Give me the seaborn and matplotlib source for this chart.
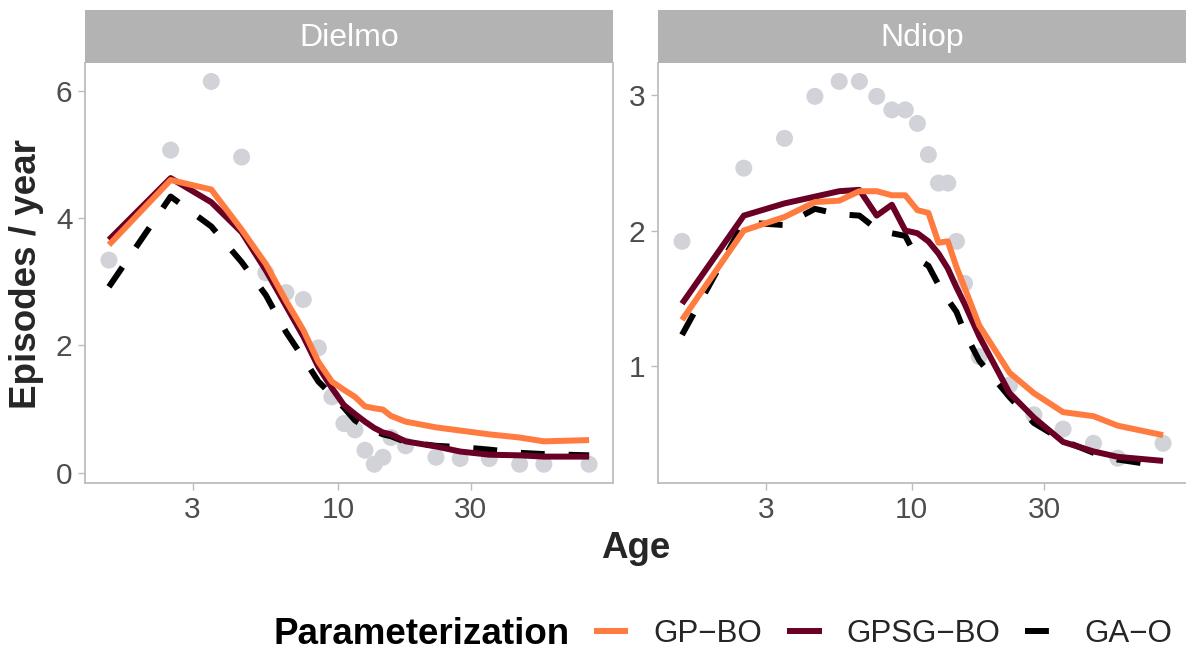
import numpy as np
import pandas as pd
import matplotlib
matplotlib.use("Agg")
import matplotlib.pyplot as plt
from matplotlib.lines import Line2D
from matplotlib.ticker import NullLocator
import seaborn as sns

# ---------------- data ----------------
ages = [1.5, 2.5, 3.5, 4.5, 5.5, 6.5, 7.5, 8.5, 9.5, 10.5, 11.5, 12.5, 13.5,
        14.5, 15.5, 17.5, 22.5, 27.5, 35, 45, 55, 80]

dielmo_obs = [3.34, 5.07, 6.15, 4.96, 3.14, 2.83, 2.72, 1.96, 1.19, 0.77, 0.67,
              0.35, 0.13, 0.24, 0.55, 0.42, 0.24, 0.22, 0.22, 0.13, 0.13, 0.13]
dielmo_gp_bo = [3.58, 4.60, 4.45, 3.82, 3.28, 2.70, 2.24, 1.74, 1.43, 1.30, 1.19,
                1.04, 1.01, 0.99, 0.89, 0.80, 0.71, 0.66, 0.60, 0.55, 0.49, 0.51]
dielmo_gpsg_bo = [3.66, 4.63, 4.25, 3.78, 3.18, 2.62, 2.14, 1.66, 1.33, 1.06, 0.92,
                  0.80, 0.70, 0.63, 0.60, 0.49, 0.41, 0.33, 0.28, 0.27, 0.25, 0.25]
dielmo_ga_o = [2.92, 4.34, 3.87, 3.31, 2.79, 2.21, 1.80, 1.43, 1.22, 1.02, 0.82,
               0.72, 0.66, 0.60, 0.57, 0.48, 0.42, 0.40, 0.36, 0.31, 0.29, 0.27]

ndiop_obs = [1.92, 2.46, 2.68, 2.99, 3.10, 3.10, 2.99, 2.89, 2.89, 2.79, 2.56,
             2.35, 2.35, 1.92, 1.61, 1.07, 0.86, 0.64, 0.535, 0.43, 0.32, 0.43]
ndiop_gp_bo = [1.34, 2.00, 2.10, 2.21, 2.22, 2.29, 2.29, 2.26, 2.26, 2.15, 2.13,
               1.91, 1.92, 1.73, 1.58, 1.30, 0.95, 0.80, 0.66, 0.63, 0.56, 0.49]
ndiop_gpsg_bo = [1.46, 2.11, 2.20, 2.25, 2.29, 2.30, 2.11, 2.19, 2.00, 1.98, 1.92,
                 1.83, 1.72, 1.58, 1.46, 1.22, 0.80, 0.62, 0.44, 0.37, 0.33, 0.30]
ndiop_ga_o = [1.23, 2.06, 2.04, 2.16, 2.12, 2.11, 2.01, 1.98, 1.96, 1.79, 1.74,
              1.60, 1.49, 1.40, 1.25, 1.04, 0.77, 0.58, 0.45, 0.36, 0.31, 0.26]

sites = ["Dielmo", "Ndiop"]
params = ["GP\u2212BO", "GPSG\u2212BO", "GA\u2212O"]
xticks = [3, 10, 30]
yticks = {"Dielmo": [0, 2, 4, 6], "Ndiop": [1, 2, 3]}

obs = {"Dielmo": dielmo_obs, "Ndiop": ndiop_obs}
fits = {"Dielmo": [dielmo_gp_bo, dielmo_gpsg_bo, dielmo_ga_o],
        "Ndiop": [ndiop_gp_bo, ndiop_gpsg_bo, ndiop_ga_o]}

# ---------------- style ----------------
sns.set_theme(style="white")
plt.rcParams["font.family"] = ["Liberation Sans", "DejaVu Sans"]

colors = {params[0]: "#FF7B3F", params[1]: "#6A0026", params[2]: "#000000"}
dashes = {params[0]: "", params[1]: "", params[2]: (4, 4)}
point_color = "#D2D3D9"
strip_color = "#B3B3B3"
axis_gray = "#BDBDBD"
tick_text = "#4D4D4D"
title_color = "#262626"
LW = 4.3

W, H = 1186, 652
fig = plt.figure(figsize=(W / 100, H / 100), dpi=100)

def fx(px):
    return px / W

def fy(py):
    return 1 - py / H

panel_x = {"Dielmo": (85, 613), "Ndiop": (658, 1187)}
panel_top, panel_bot, strip_top = 63, 483, 10
ylims = {"Dielmo": (-0.165, 6.44), "Ndiop": (0.137, 3.236)}
xlim = (1.23, 97.5)

for site in sites:
    x0, x1 = panel_x[site]
    ax = fig.add_axes([fx(x0), fy(panel_bot), fx(x1 - x0), (panel_bot - panel_top) / H])
    df_obs = pd.DataFrame({"age": ages, "value": obs[site]})
    sns.scatterplot(data=df_obs, x="age", y="value", color=point_color, s=150,
                    edgecolor="none", ax=ax, zorder=1, legend=False)
    rows = []
    for p, vals in zip(params, fits[site]):
        rows.append(pd.DataFrame({"age": ages, "value": vals, "param": p}))
    df_fit = pd.concat(rows, ignore_index=True)
    sns.lineplot(data=df_fit, x="age", y="value", hue="param", style="param",
                 hue_order=[params[2], params[1], params[0]],
                 style_order=[params[2], params[1], params[0]],
                 palette=colors, dashes=dashes, linewidth=LW, estimator=None,
                 sort=False, legend=False, ax=ax, zorder=2)
    for line in ax.get_lines():
        line.set_solid_capstyle("butt")
        line.set_dash_capstyle("butt")
    ax.set_xscale("log")
    ax.set_xlim(*xlim)
    ax.set_ylim(*ylims[site])
    ax.set_xticks(xticks)
    ax.set_xticklabels([str(t) for t in xticks])
    ax.xaxis.set_minor_locator(NullLocator())
    ax.set_yticks(yticks[site])
    ax.set_yticklabels([str(t) for t in yticks[site]])
    ax.set_xlabel("")
    ax.set_ylabel("")
    ax.tick_params(axis="both", direction="out", length=5, width=1.0,
                   color=axis_gray, labelcolor=tick_text, labelsize=21.5, pad=4,
                   bottom=True, left=True)
    for name, sp in ax.spines.items():
        sp.set_color(axis_gray)
        sp.set_linewidth(1.3)
    ax.spines["top"].set_visible(False)
    # strip
    sax = fig.add_axes([fx(x0), fy(panel_top), fx(x1 - x0), (panel_top - strip_top) / H])
    sax.set_facecolor(strip_color)
    sax.set_xticks([])
    sax.set_yticks([])
    for sp in sax.spines.values():
        sp.set_visible(False)
    sax.text(0.5, 0.48, site, ha="center", va="center", color="white",
             fontsize=23, transform=sax.transAxes)

fig.text(fx(27), fy(274), "Episodes / year", rotation=90, ha="center", va="center",
         fontsize=26.5, fontweight="bold", color=title_color)
fig.text(fx(636), fy(549), "Age", ha="center", va="center",
         fontsize=26.5, fontweight="bold", color=title_color)

fig.text(fx(274), fy(634), "Parameterization", ha="left", va="center",
         fontsize=26.5, fontweight="bold", color="black")
handles = []
for p in params:
    h = Line2D([0], [0], color=colors[p], lw=LW,
               solid_capstyle="butt", dash_capstyle="butt")
    if dashes[p] != "":
        h.set_dashes(dashes[p])
    handles.append(h)
fig.legend(handles=handles, labels=params, loc="center left",
           bbox_to_anchor=(fx(594), fy(634)), ncol=3, frameon=False,
           fontsize=22.5, handlelength=1.1, handletextpad=0.8, columnspacing=0.8,
           borderpad=0, borderaxespad=0)

fig.savefig("out.png", dpi=100)
